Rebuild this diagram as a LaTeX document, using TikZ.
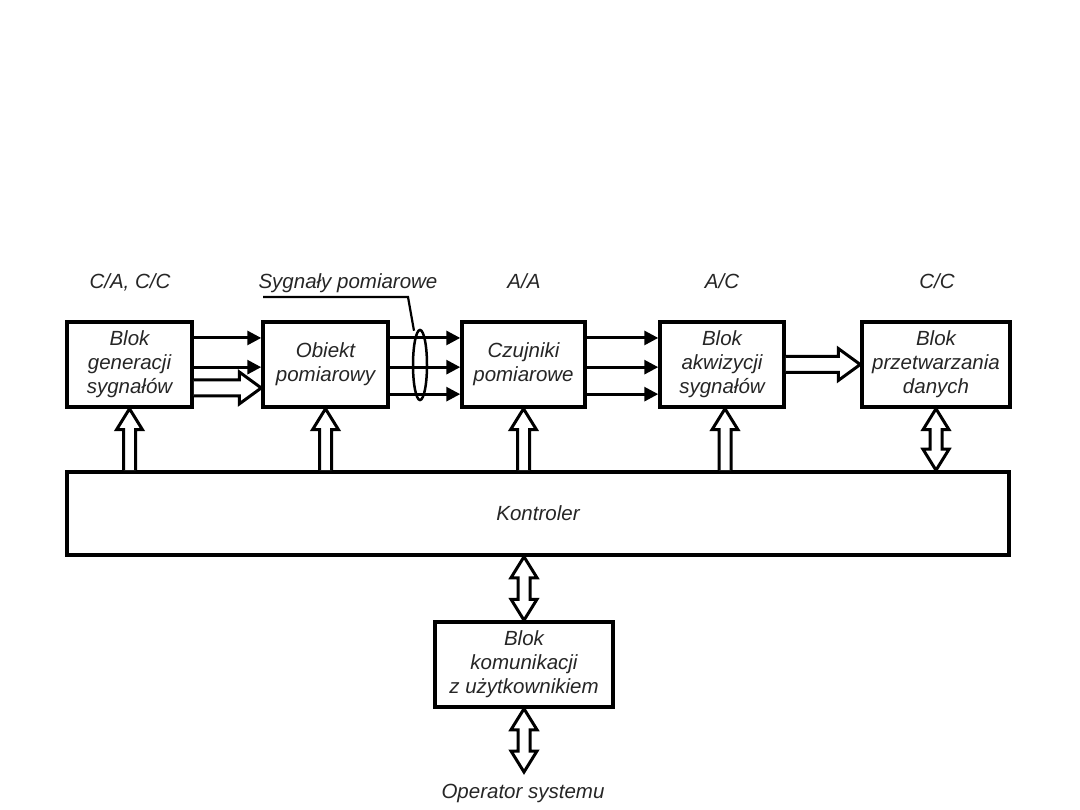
\documentclass[tikz,border=0pt]{standalone}
\usepackage{fontspec}
\setmainfont{Liberation Sans}
\usetikzlibrary{calc,shapes.geometric,arrows.meta}
\newcommand\hollowright[2]{\draw[hollow] ($(#1)+(0,-8)$) -- ($(#2)+(-22,-8)$) -- ($(#2)+(-22,-16)$) -- (#2) -- ($(#2)+(-22,16)$) -- ($(#2)+(-22,8)$) -- ($(#1)+(0,8)$);}
\newcommand\hollowup[2]{\draw[hollow] ($(#1)+(-6,0)$) -- ($(#2)+(-6,21)$) -- ($(#2)+(-13,21)$) -- (#2) -- ($(#2)+(13,21)$) -- ($(#2)+(6,21)$) -- ($(#1)+(6,0)$);}
\newcommand\hollowboth[2]{\draw[hollow] (#1) -- ($(#1)+(13,21)$) -- ($(#1)+(6,21)$) -- ($(#2)+(6,-21)$) -- ($(#2)+(13,-21)$) -- (#2) -- ($(#2)+(-13,-21)$) -- ($(#2)+(-6,-21)$) -- ($(#1)+(-6,21)$) -- ($(#1)+(-13,21)$) -- cycle;}
\begin{document}
\begin{tikzpicture}[x=1pt,y=-1pt,
  txt/.style={font=\itshape\fontsize{20.5}{24}\selectfont, text=black!85},
  box/.style={txt, draw, line width=3.5pt, inner sep=0pt, align=center, minimum height=85pt},
  lbl/.style={txt, inner sep=0pt, anchor=base},
  thinarrow/.style={line width=3pt, -{Triangle[length=14pt,width=14pt]}},
  hollow/.style={line width=3pt, fill=white, line join=miter},
  pointer/.style={line width=2.2pt}]
\useasboundingbox[fill=white] (0,0) rectangle (1080,810);

% boxes
\node[box, minimum width=125pt] (gen) at (129.5,364.5) {Blok\\generacji\\sygnałów};
\node[box, minimum width=125pt] (obj) at (325.5,364.5) {Obiekt\\pomiarowy};
\node[box, minimum width=123pt] (czu) at (523.5,364.5) {Czujniki\\pomiarowe};
\node[box, minimum width=124pt] (akw) at (722,364.5) {Blok\\akwizycji\\sygnałów};
\node[box, minimum width=148pt] (prz) at (936,364.5) {Blok\\przetwarzania\\danych};
\node[box, minimum width=942pt, minimum height=83pt] (kon) at (538,513.5) {Kontroler};
\node[box, minimum width=178pt] (kom) at (524,664.5) {Blok\\komunikacji\\z użytkownikiem};

% top labels
\node[lbl] (l1) at (130,289) {C/A, C/C};
\node[lbl] (sp) at (348,289) {Sygnały pomiarowe};
\node[lbl] (l3) at (524,289) {A/A};
\node[lbl] (l4) at (722,289) {A/C};
\node[lbl] (l5) at (937,289) {C/C};
\node[lbl] (op) at (523,798) {Operator systemu};

% thin arrows
\foreach \f in {0.2,0.53}
  \draw[thinarrow] ($(gen.north east)!\f!(gen.south east)$) -- ($(obj.north west)!\f!(obj.south west)$);
\foreach \f in {0.2,0.53,0.835}{
  \draw[thinarrow] ($(obj.north east)!\f!(obj.south east)$) -- ($(czu.north west)!\f!(czu.south west)$);
  \draw[thinarrow] ($(czu.north east)!\f!(czu.south east)$) -- ($(akw.north west)!\f!(akw.south west)$);
}

% hollow horizontal arrows
\coordinate (g1) at ($(gen.north east)!0.765!(gen.south east)$);
\coordinate (o1) at ($(obj.north west)!0.765!(obj.south west)$);
\hollowright{g1}{o1}
\coordinate (a1) at ($(akw.north east)!0.5!(akw.south east)$);
\coordinate (p1) at ($(prz.north west)!0.5!(prz.south west)$);
\hollowright{a1}{p1}

% ellipse and its pointer
\node[draw, ellipse, line width=2.5pt, minimum width=14pt, minimum height=70pt, inner sep=0pt] (el) at (420,365) {};
\coordinate (spl) at (263,297);
\draw[pointer] (spl) -- (408,297) -- ($(el.north)+(-6,2)$);

% vertical arrows from controller
\coordinate (k1) at (kon.north -| gen.south);
\hollowup{k1}{gen.south}
\coordinate (k2) at (kon.north -| obj.south);
\hollowup{k2}{obj.south}
\coordinate (k3) at (kon.north -| czu.south);
\hollowup{k3}{czu.south}
\coordinate (k4) at ($(kon.north -| akw.south)+(3,0)$);
\coordinate (a4) at ($(akw.south)+(3,0)$);
\hollowup{k4}{a4}
\coordinate (k5) at (kon.north -| prz.south);
\hollowboth{prz.south}{k5}
\coordinate (k6) at (kon.south -| kom.north);
\hollowboth{k6}{kom.north}
\coordinate (opt) at (kom.south |- 0,772);
\hollowboth{kom.south}{opt}
\end{tikzpicture}
\end{document}
